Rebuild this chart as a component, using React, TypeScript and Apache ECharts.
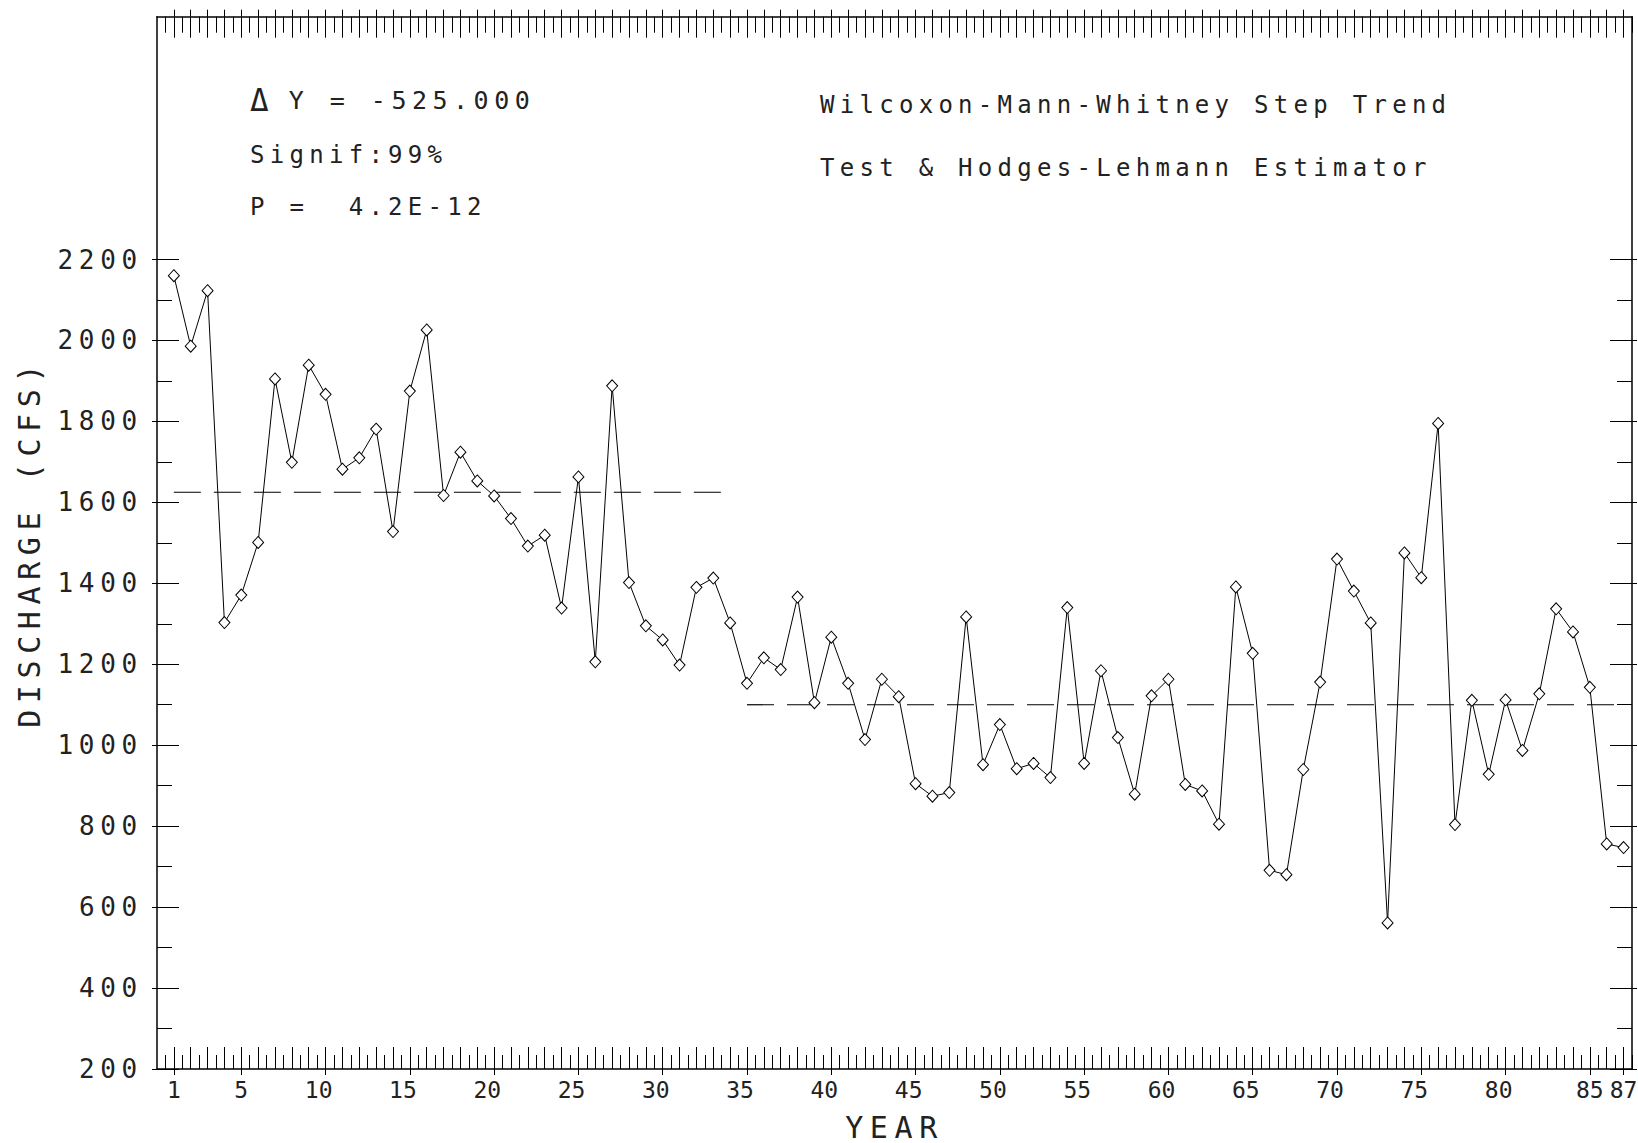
import React, { useEffect, useRef } from 'react';
import * as echarts from 'echarts';

// ---- data ----
const discharge = [
  2160, 1986, 2123, 1303, 1371, 1501, 1905, 1699, 1939, 1867,
  1682, 1710, 1781, 1528, 1875, 2026, 1617, 1724, 1653, 1616,
  1560, 1492, 1519, 1339, 1663, 1206, 1888, 1402, 1295, 1260,
  1198, 1390, 1413, 1302, 1153, 1216, 1187, 1366, 1105, 1267,
  1153, 1014, 1163, 1120, 905, 874, 883, 1317, 952, 1051,
  942, 955, 920, 1340, 955, 1184, 1019, 879, 1122, 1163,
  903, 887, 805, 1391, 1227, 691, 680, 940, 1156, 1460,
  1381, 1302, 561, 1475, 1414, 1795, 804, 1111, 928, 1112,
  987, 1127, 1337, 1280, 1143, 756, 747,
];
const stepStart = [1, 35];
const stepEnd = [34, 87];
const stepLevel = [1625, 1100];

const xLabelYears = [1, 5, 10, 15, 20, 25, 30, 35, 40, 45, 50, 55, 60, 65, 70, 75, 80, 85, 87];
const yLabelValues = [200, 400, 600, 800, 1000, 1200, 1400, 1600, 1800, 2000, 2200];
const yMinorValues = [300, 500, 700, 900, 1100, 1300, 1500, 1700, 1900, 2100];
const xIntTicks = Array.from({ length: 87 }, (_, i) => i + 1);
const xHalfTicks = Array.from({ length: 88 }, (_, i) => i + 0.5);

const annoLines = ['Signif:99%', 'P =  4.2E-12'];
const methodLines = ['Wilcoxon-Mann-Whitney Step Trend', 'Test & Hodges-Lehmann Estimator'];

const FONT = '"DejaVu Sans Mono", "Liberation Mono", monospace';
const INK = '#222';

export default function App() {
  const ref = useRef<HTMLDivElement>(null);

  useEffect(() => {
    if (!ref.current) return;
    const chart = echarts.init(ref.current, undefined, { renderer: 'svg' });

    const xBase = { type: 'value', min: 0, max: 87.5, splitLine: { show: false } };
    const yBase = { type: 'value', min: 200, max: 2800, splitLine: { show: false } };
    const lineS = { color: '#000', width: 1.5 };
    const tickS = { color: '#000', width: 1 };
    const noLine = { show: false, onZero: false };
    const noLabel = { show: false };

    const xAxis = [
      {
        ...xBase, position: 'bottom',
        axisLine: { show: true, onZero: false, lineStyle: lineS },
        axisTick: { show: true, inside: true, length: 22, customValues: xIntTicks, lineStyle: tickS },
        axisLabel: {
          show: true, customValues: xLabelYears, margin: 9, color: INK, fontFamily: FONT, fontSize: 23,
          showMinLabel: true, showMaxLabel: true, hideOverlap: false,
          formatter: (v: number) => (v >= 10 && v < 85 ? v + ' ' : String(v)),
        },
        name: 'YEAR', nameLocation: 'middle', nameGap: 43,
        nameTextStyle: { color: INK, fontFamily: FONT, fontSize: 30 },
      },
      { ...xBase, position: 'bottom', axisLine: noLine, axisLabel: noLabel,
        axisTick: { show: true, inside: true, length: 14, customValues: xHalfTicks, lineStyle: tickS } },
      { ...xBase, position: 'bottom', axisLine: noLine, axisLabel: noLabel,
        axisTick: { show: true, inside: false, length: 6, customValues: xLabelYears, lineStyle: tickS } },
      { ...xBase, position: 'top', axisLine: { show: true, onZero: false, lineStyle: lineS }, axisLabel: noLabel,
        axisTick: { show: true, inside: true, length: 21, customValues: xIntTicks, lineStyle: tickS } },
      { ...xBase, position: 'top', axisLine: noLine, axisLabel: noLabel,
        axisTick: { show: true, inside: true, length: 16, customValues: xHalfTicks, lineStyle: tickS } },
      { ...xBase, position: 'top', axisLine: noLine, axisLabel: noLabel,
        axisTick: { show: true, inside: false, length: 7, customValues: xIntTicks, lineStyle: tickS } },
    ];

    const yAxis = [
      {
        ...yBase, position: 'left',
        axisLine: { show: true, onZero: false, lineStyle: lineS },
        axisTick: { show: true, inside: true, length: 22, customValues: yLabelValues, lineStyle: tickS },
        axisLabel: {
          show: true, customValues: yLabelValues, margin: 14, color: INK, fontFamily: FONT, fontSize: 26,
          showMinLabel: true, showMaxLabel: true,
          formatter: (v: number) => String(v),
        },
        name: 'DISCHARGE (CFS)', nameLocation: 'middle', nameGap: 113,
        nameTextStyle: { color: INK, fontFamily: FONT, fontSize: 30 },
      },
      { ...yBase, position: 'left', axisLine: noLine, axisLabel: noLabel,
        axisTick: { show: true, inside: false, length: 5, customValues: yLabelValues, lineStyle: tickS } },
      { ...yBase, position: 'left', axisLine: noLine, axisLabel: noLabel,
        axisTick: { show: true, inside: true, length: 15, customValues: yMinorValues, lineStyle: tickS } },
      { ...yBase, position: 'right', axisLine: { show: true, onZero: false, lineStyle: lineS }, axisLabel: noLabel,
        axisTick: { show: true, inside: true, length: 22, customValues: yLabelValues, lineStyle: tickS } },
      { ...yBase, position: 'right', axisLine: noLine, axisLabel: noLabel,
        axisTick: { show: true, inside: false, length: 5, customValues: yLabelValues, lineStyle: tickS } },
      { ...yBase, position: 'right', axisLine: noLine, axisLabel: noLabel,
        axisTick: { show: true, inside: true, length: 15, customValues: yMinorValues, lineStyle: tickS } },
    ];

    const stepSeries = stepStart.map((s, i) => ({
      type: 'line',
      name: 'step' + (i + 1),
      xAxisIndex: 0,
      yAxisIndex: 0,
      data: [[s, stepLevel[i]], [stepEnd[i], stepLevel[i]]],
      symbol: 'none',
      z: 2,
      lineStyle: { color: '#000', width: 1.2, type: [27, 13] },
      silent: true,
    }));

    const textStyle = { fontFamily: FONT, fontSize: 24, fill: INK, verticalAlign: 'middle', align: 'left' };

    chart.setOption({
      animation: false,
      backgroundColor: '#fff',
      grid: { left: 157, right: 6, top: 16.7, bottom: 74, containLabel: false, outerBoundsMode: 'none' },
      xAxis,
      yAxis,
      series: [
        ...stepSeries,
        {
          type: 'line',
          name: 'Discharge',
          xAxisIndex: 0,
          yAxisIndex: 0,
          data: discharge.map((v, i) => [i + 1, v]),
          symbol: 'diamond',
          symbolSize: [11, 12],
          z: 3,
          lineStyle: { color: '#000', width: 1 },
          itemStyle: { color: '#fff', borderColor: '#000', borderWidth: 1 },
        },
      ],
      graphic: [
        {
          type: 'text', x: 250, y: 100,
          style: {
            text: '{d|Δ}{t|Y = -525.000}',
            verticalAlign: 'middle', align: 'left',
            rich: {
              d: { fontFamily: FONT, fontSize: 31, fill: INK, padding: [0, 20, 0, 0] },
              t: { fontFamily: FONT, fontSize: 25, fill: INK },
            },
          },
        },
        { type: 'text', x: 250, y: 155, style: { ...textStyle, text: annoLines[0] } },
        { type: 'text', x: 250, y: 207, style: { ...textStyle, text: annoLines[1] } },
        { type: 'text', x: 820, y: 105, style: { ...textStyle, text: methodLines[0] } },
        { type: 'text', x: 820, y: 168, style: { ...textStyle, text: methodLines[1] } },
      ],
    });

    return () => chart.dispose();
  }, []);

  return (
    <>
      <style>{`.chart-root text { letter-spacing: 0.22em; white-space: pre; }
.chart-root text[style*="23px"] { letter-spacing: 0; }`}</style>
      <div
        ref={ref}
        className="chart-root"
        style={{ position: 'fixed', left: 0, top: 0, width: 1638, height: 1143, background: '#fff' }}
      />
    </>
  );
}
